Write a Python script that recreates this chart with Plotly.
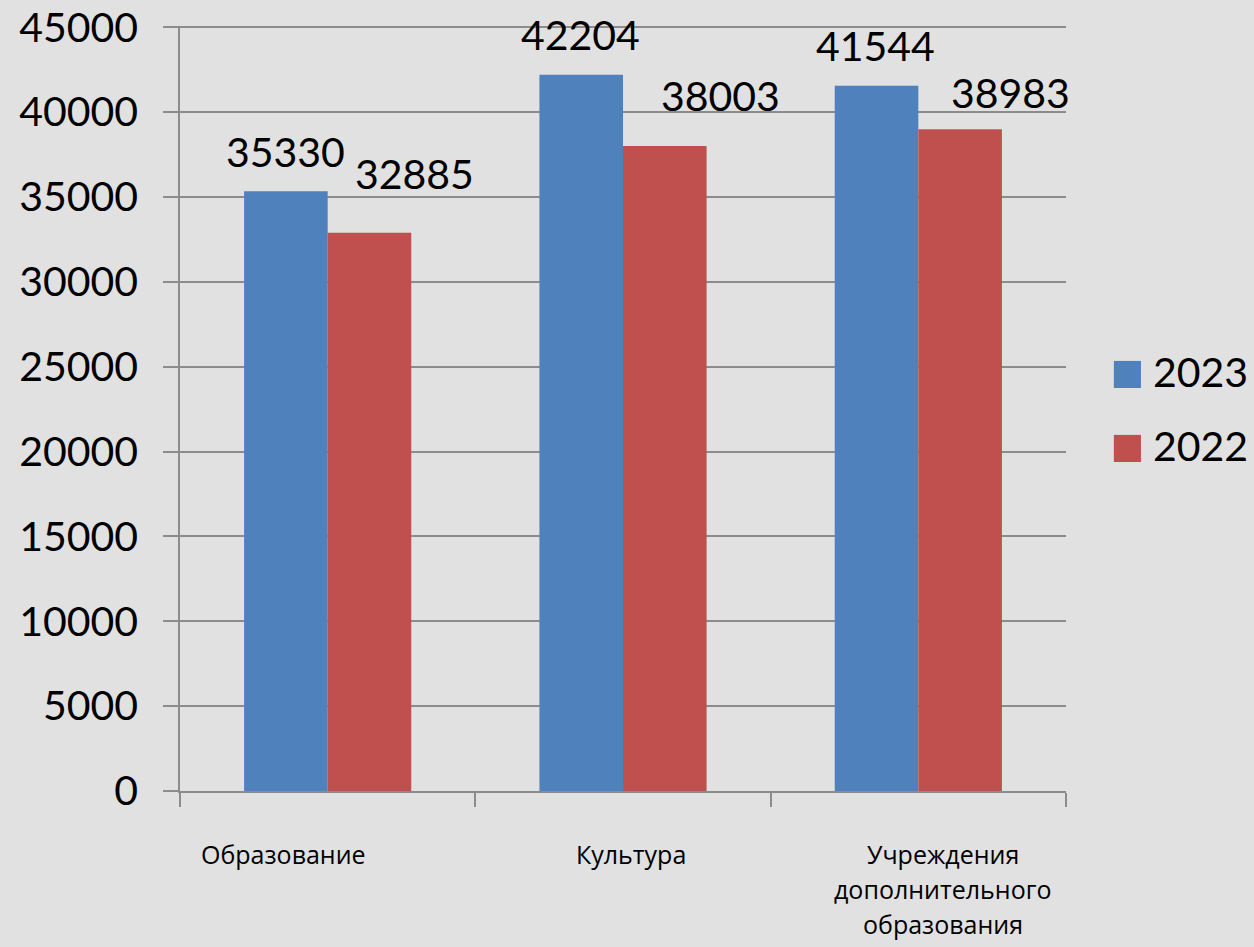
import plotly.graph_objects as go

categories = ["Образование", "Культура", "Учреждения дополнительного образования"]
category_label_lines = [["Образование"], ["Культура"], ["Учреждения", "дополнительного", "образования"]]
series_names = ["2023", "2022"]
values_2023 = [35330, 42204, 41544]
values_2022 = [32885, 38003, 38983]
y_ticks = [0, 5000, 10000, 15000, 20000, 25000, 30000, 35000, 40000, 45000]

# styles / label offsets (pixels)
colors = ["#4F81BD", "#C0504D"]
label_xshift = [[-42, -42.5, -42.5], [86.5, 97.5, 92]]
label_yshift = [[40, 40, 40], [59.5, 50.5, 37]]
cat_label_xshift = [-44, 8, 25]

FONT = "Open Sans"
NUM_FONT = "Lato, Open Sans"
GRID = "#8c8c8c"
BG = "#e1e1e1"

fig = go.Figure()
for name, vals, col in zip(series_names, [values_2023, values_2022], colors):
    fig.add_trace(go.Bar(
        x=categories, y=vals, name=name,
        marker=dict(color=col, line=dict(width=0)),
        showlegend=False, hoverinfo="x+y+name",
    ))

fig.update_layout(
    width=1254, height=947,
    margin=dict(l=180, r=188, t=26, b=156, autoexpand=False),
    paper_bgcolor=BG, plot_bgcolor=BG,
    barmode="group", bargap=0.434, bargroupgap=0,
    font=dict(family=FONT, color="black"),
)
fig.update_xaxes(
    range=[-0.5, len(categories) - 0.5],
    showticklabels=False, ticks="outside", tickson="boundaries", ticklen=14,
    tickcolor=GRID, tickwidth=1.5, showline=True, linecolor=GRID, linewidth=1.5,
    showgrid=False, zeroline=False, automargin=False,
)
fig.update_yaxes(
    range=[0, 45070], tickvals=y_ticks, ticktext=[str(v) for v in y_ticks],
    tickfont=dict(family=NUM_FONT, size=41, color="black"),
    ticks="outside", ticklen=15, tickcolor=GRID, tickwidth=1.5,
    showline=True, linecolor=GRID, linewidth=1.5,
    showgrid=True, gridcolor=GRID, gridwidth=1.5, zeroline=False,
    ticklabelstandoff=17, ticklabeloverflow="allow", automargin=False,
)

# data labels
for vals, xsh, ysh in zip([values_2023, values_2022], label_xshift, label_yshift):
    for cat, v, xs, ys in zip(categories, vals, xsh, ysh):
        fig.add_annotation(
            x=cat, y=v, xref="x", yref="y", text=str(v), showarrow=False,
            xanchor="center", yanchor="middle", xshift=xs, yshift=ys,
            font=dict(family=NUM_FONT, size=41, color="black"),
        )

# category labels
for cat, lines, xs in zip(categories, category_label_lines, cat_label_xshift):
    for i, line in enumerate(lines):
        fig.add_annotation(
            x=cat, xref="x", y=-0.0575, yref="paper", yanchor="top", xanchor="center",
            text=line, showarrow=False, xshift=xs, yshift=-35 * i,
            font=dict(family=FONT, size=25, color="black"),
        )

# legend
legend_y = [0.5445, 0.4478]
for name, col, yc in zip(series_names, colors, legend_y):
    fig.add_shape(type="rect", xref="paper", yref="paper",
                  x0=1.054, x1=1.0846, y0=yc - 0.0177, y1=yc + 0.0177,
                  fillcolor=col, line=dict(width=0))
    fig.add_annotation(x=1.096, y=yc + 0.004, xref="paper", yref="paper",
                       xanchor="left", yanchor="middle", text=name, showarrow=False,
                       font=dict(family=NUM_FONT, size=41, color="black"))

fig.write_html("out.html", config={"displayModeBar": False},
               post_script="document.body.style.margin='0';document.body.style.background='#e1e1e1';")
